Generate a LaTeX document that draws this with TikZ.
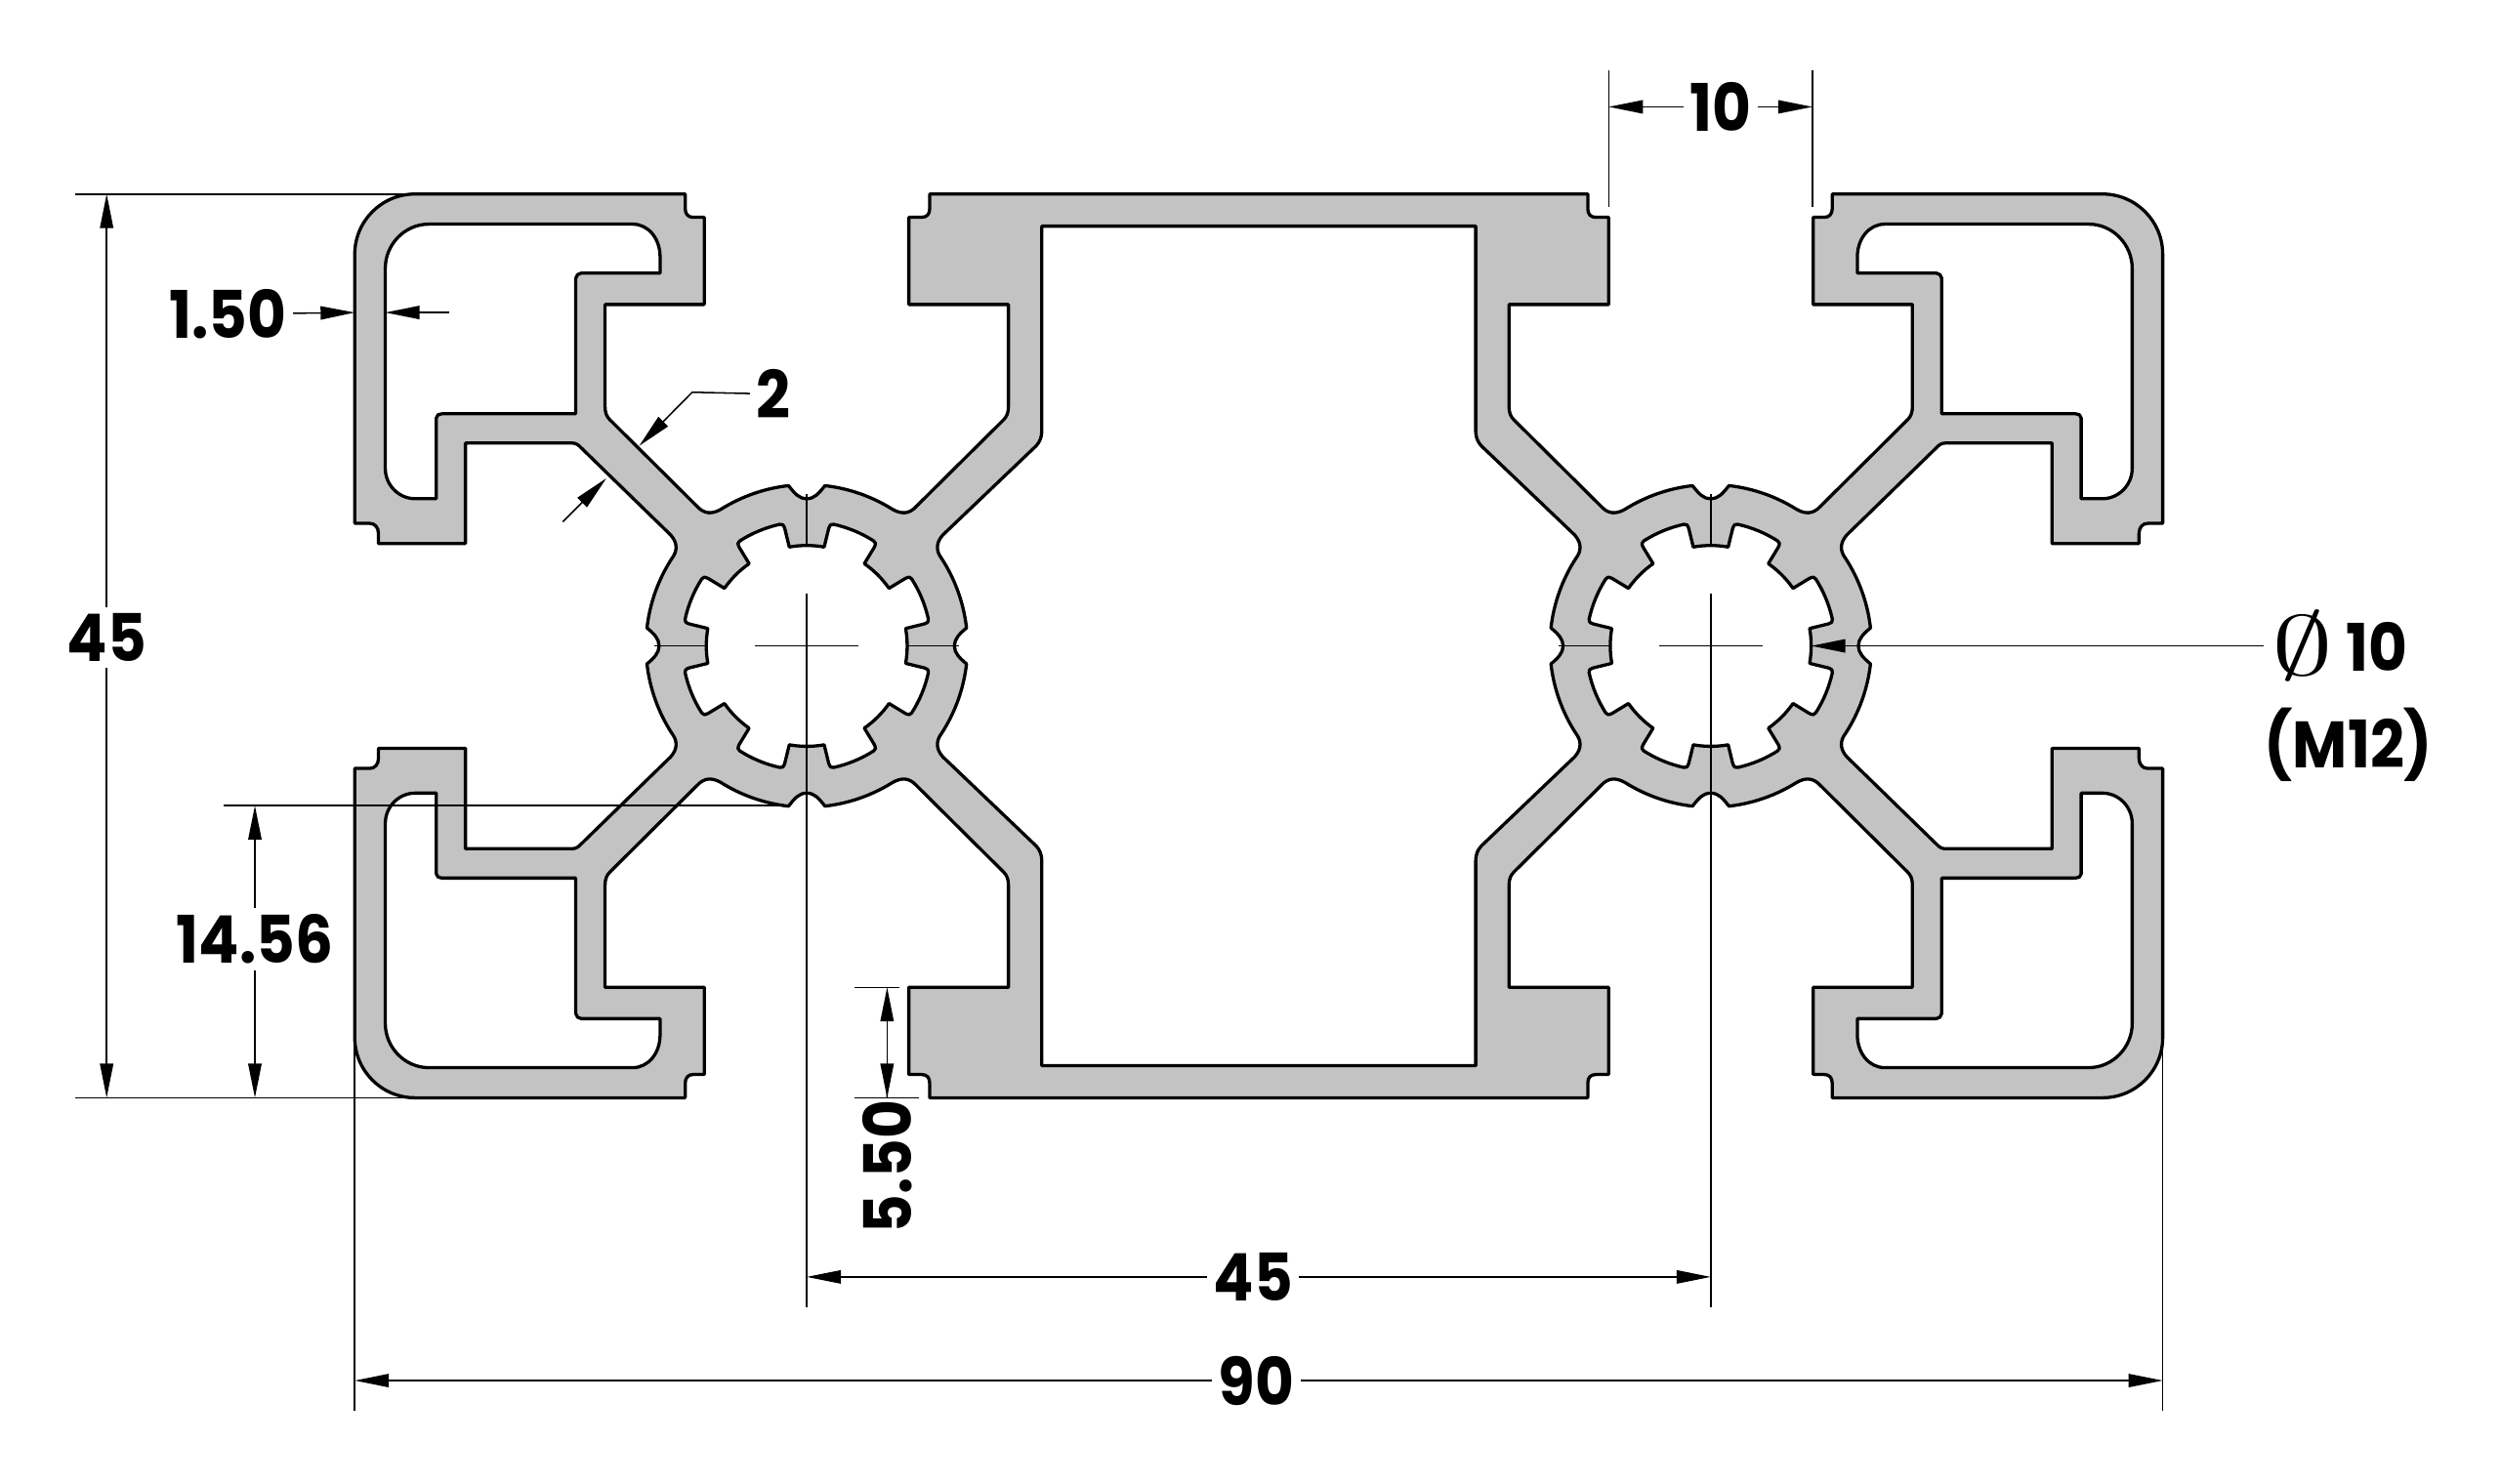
\documentclass[tikz,border=0pt]{standalone}
\usepackage{fontspec}
\usetikzlibrary{arrows.meta}
\newfontfamily\dimfont[FakeStretch=0.91]{Poppins}
\definecolor{alugray}{HTML}{C3C3C3}

% one quarter of the section, x and y positive, lengths in mm
\newcommand{\outerquad}{(0,22.5) -- (16.38,22.5) -- (16.38,21.78) .. controls (16.38,21.5) and (16.5,21.34) .. (16.8,21.34)
    -- (17.42,21.34) -- (17.42,17) -- (12.46,17) -- (12.46,11.9) .. controls (12.46,11.6) and (12.55,11.41) .. (12.7,11.26)
    -- (17.04,6.95) .. controls (17.4,6.55) and (17.8,6.55) .. (18.245,6.81)
    arc[start angle=122,end angle=96.5,radius=8.03]
    .. controls (21.9,7.6) and (22.1,7.33) .. (22.5,7.33) .. controls (22.9,7.33) and (23.1,7.6) .. (23.41,7.98)
    arc[start angle=83.5,end angle=58,radius=8.03]
    .. controls (27.2,6.55) and (27.6,6.55) .. (27.96,6.95)
    -- (32.3,11.26) .. controls (32.45,11.41) and (32.54,11.6) .. (32.54,11.9)
    -- (32.54,17) -- (27.6,17) -- (27.6,21.34) -- (28.15,21.34) .. controls (28.4,21.34) and (28.55,21.5) .. (28.55,21.78)
    -- (28.55,22.5) -- (42,22.5) arc[start angle=90,end angle=0,radius=3]
    -- (45,6.1) -- (44.25,6.1) .. controls (44,6.1) and (43.82,5.9) .. (43.82,5.6)
    -- (43.82,5.1) -- (39.49,5.1) -- (39.49,10.1) -- (34.3,10.1) .. controls (34.1,10.1) and (34,10.1) .. (33.84,9.97)
    -- (29.27,5.52) .. controls (28.9,5.1) and (28.95,4.7) .. (29.21,4.36)
    arc[start angle=33,end angle=6.5,radius=8.03]
    .. controls (30.1,0.6) and (29.85,0.35) .. (29.85,0)}
\newcommand{\middlequad}{(0,20.9) -- (10.8,20.9) -- (10.8,10.69) .. controls (10.8,10.4) and (10.9,10.15) .. (11.08,9.96)
    -- (15.73,5.52) .. controls (16.1,5.1) and (16.05,4.7) .. (15.79,4.36)
    arc[start angle=147,end angle=173.5,radius=8.03]
    .. controls (14.9,0.6) and (15.15,0.35) .. (15.15,0)}
\newcommand{\cornerhole}{(41.32,21) -- (31.16,21) .. controls (30.4,21) and (29.8,20.3) .. (29.8,19.37)
    -- (29.8,18.56) -- (33.73,18.56) .. controls (33.85,18.56) and (34,18.45) .. (34,18.3)
    -- (34,11.56) -- (40.65,11.56) .. controls (40.8,11.56) and (40.94,11.5) .. (40.94,11.35)
    -- (40.94,7.33) -- (42,7.33) .. controls (42.8,7.33) and (43.48,8) .. (43.48,8.84)
    -- (43.48,18.8) .. controls (43.48,20) and (42.5,21) .. (41.32,21) -- cycle}
\newcommand{\starhole}{(-10:5) \foreach \a in {0,45,...,315} {
    arc[start angle=\a-10,end angle=\a+10,radius=5]
    -- (\a+10.6:5.95) .. controls (\a+10.9:6.15) and (\a+11.3:6.2) .. (\a+12.5:6.2)
    arc[start angle=\a+12.5,end angle=\a+32.5,radius=6.2]
    .. controls (\a+33.7:6.2) and (\a+34.1:6.15) .. (\a+34.4:5.95) -- (\a+35:5) } -- cycle}

\begin{document}
\begin{tikzpicture}[
        x = 1mm, y = 1mm,
        > = {Triangle[length=1.7mm,width=.66mm]}, % arrow head style
        profile/.style = {draw = black, line width = .16mm, line join = round},
        dimline/.style = {draw = black, line width = .075mm},
        dimtext/.style = {font = \dimfont\bfseries\fontsize{9.3}{11}\selectfont, inner sep = .25mm}
    ]

    \useasboundingbox (-62.66,-41.69) rectangle (61.79,32.16);

    % the aluminium first, then the cavities on top of it
    \foreach \sx/\sy in {1/1,-1/1,1/-1,-1/-1} {
        \begin{scope}[xscale=\sx, yscale=\sy]
            \fill[alugray] \outerquad -- (29.85,-.1) -- (-.1,-.1) -- (-.1,22.5) -- cycle;
        \end{scope}
    }
    \foreach \sx/\sy in {1/1,-1/1,1/-1,-1/-1} {
        \begin{scope}[xscale=\sx, yscale=\sy]
            \fill[white] \middlequad -- (15.15,-.1) -- (-.1,-.1) -- (-.1,20.9) -- cycle;
            \draw[profile, fill = white] \cornerhole;
        \end{scope}
    }
    \foreach \sx/\sy in {1/1,-1/1,1/-1,-1/-1} {
        \begin{scope}[xscale=\sx, yscale=\sy]
            \draw[profile] \outerquad;
            \draw[profile] \middlequad;
        \end{scope}
    }
    \foreach \sx in {-1,1} {
        \begin{scope}[shift={(\sx*22.5,0)}]
            \draw[profile, fill = white] \starhole;
        \end{scope}
    }

    % centre lines of the two bores
    \foreach \cx in {-22.5,22.5} {
        \draw[dimline] (\cx-2.57,0) -- (\cx+2.57,0);
        \draw[dimline] (\cx,7.55) -- (\cx,5);
        \draw[dimline] (\cx,2.58) -- (\cx,-32.93);
        \draw[dimline] (\cx-7.57,0) -- (\cx-5.06,0);
    }
    \draw[dimline] (-17.44,0) -- (-14.93,0);

    % labels
    \node[dimtext] (ten) at (22.98,26.84) {10};
    \node[dimtext] (heightall) at (-57.35,.41) {45};
    \node[dimtext] (wall) at (-51.3,16.52) {1.50};
    \node[dimtext] (web) at (-24.16,12.54) {2};
    \node[dimtext] (groove) at (-49.97,-14.6) {14.56};
    \node[dimtext, rotate=90] (lip) at (-18.46,-25.94) {5.50};
    \node[dimtext] (pitch) at (-.28,-31.42) {45};
    \node[dimtext] (widthall) at (-.12,-36.58) {90};
    \node[inner sep = .37mm, font = \fontsize{12}{14}\selectfont] (diasign) at (51.97,0) {\scalebox{1.45}[1]{$\emptyset$}};
    \node[dimtext] (diatext) at (55.68,-.06) {10};
    \node[dimtext] (thread) at (54.25,-4.93) {(M12)};

    % extension lines
    \draw[dimline] (17.42,28.66) -- (17.42,21.85);
    \draw[dimline] (27.56,28.66) -- (27.56,21.85);
    \draw[dimline] (-58.93,22.5) -- (-42,22.5);
    \draw[dimline] (-58.93,-22.5) -- (-42.6,-22.5);
    \draw[dimline] (-51.55,-7.95) -- (-23.3,-7.95);
    \draw[dimline] (-20.1,-17) -- (-17.9,-17);
    \draw[dimline] (-20.1,-22.5) -- (-16.9,-22.5);
    \draw[dimline] (-45,-19.5) -- (-45,-38.1);
    \draw[dimline] (45,-19.5) -- (45,-38.1);

    % dimension lines
    \draw[dimline, ->] (ten) -- (17.42,26.84);
    \draw[dimline, ->] (ten) -- (27.56,26.84);
    \draw[dimline, ->] (heightall) -- (-57.35,22.5);
    \draw[dimline, ->] (heightall) -- (-57.35,-22.5);
    \draw[dimline, ->] (wall) -- (-45,16.6);
    \draw[dimline, ->] (-40.3,16.6) -- (-43.48,16.6);
    \draw[dimline, ->] (web) -- (-28.2,12.63) -- (-30.84,9.96);
    \draw[dimline, ->] (-34.64,6.18) -- (-32.48,8.34);
    \draw[dimline, ->] (groove) -- (-49.97,-7.95);
    \draw[dimline, ->] (groove) -- (-49.97,-22.5);
    \draw[dimline, ->] (-18.5,-19.75) -- (-18.5,-17);
    \draw[dimline, ->] (-18.5,-19.75) -- (-18.5,-22.5);
    \draw[dimline] (-18.5,-22.5) -- (lip);
    \draw[dimline, ->] (pitch) -- (-22.5,-31.42);
    \draw[dimline, ->] (pitch) -- (22.5,-31.42);
    \draw[dimline, ->] (widthall) -- (-45,-36.58);
    \draw[dimline, ->] (widthall) -- (45,-36.58);
    \draw[dimline, ->] (diasign) -- (27.5,0);

\end{tikzpicture}
\end{document}
